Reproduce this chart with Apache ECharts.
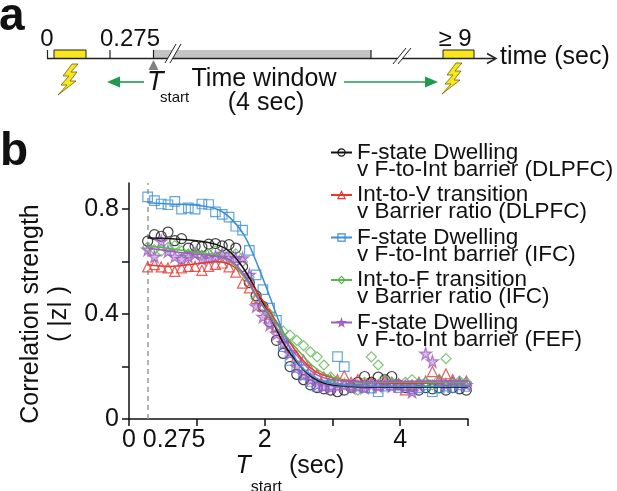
<!DOCTYPE html>
<html>
<head>
<meta charset="utf-8">
<script src="https://cdn.jsdelivr.net/npm/echarts@6/dist/echarts.min.js"></script>
<style>
html,body{margin:0;padding:0;background:#fff;}
#main{width:617px;height:491px;}
</style>
</head>
<body>
<div id="main"></div>
<script>
// ---------- DATA ----------
const xPoints = [0.275,0.375,0.475,0.575,0.675,0.775,0.875,0.975,1.075,1.175,1.275,1.375,1.475,1.575,1.675,1.775,1.875,1.975,2.075,2.175,2.275,2.375,2.475,2.575,2.675,2.775,2.875,2.975,3.075,3.175,3.275,3.375,3.475,3.575,3.675,3.775,3.875,3.975,4.075,4.175,4.275,4.375,4.475,4.575,4.675,4.775,4.875,4.975];

const dlpfcDwell = [0.678,0.703,0.697,0.713,0.68,0.688,0.652,0.659,0.656,0.667,0.669,0.66,0.665,0.652,0.582,0.52,0.47,0.43,0.37,0.30,0.25,0.20,0.17,0.15,0.13,0.12,0.115,0.11,0.104,0.11,0.12,0.14,0.162,0.14,0.16,0.15,0.162,0.13,0.12,0.125,0.11,0.12,0.115,0.12,0.11,0.12,0.115,0.11];
const dlpfcIntV = [0.58,0.589,0.58,0.576,0.563,0.576,0.582,0.582,0.567,0.582,0.59,0.595,0.58,0.56,0.518,0.50,0.46,0.43,0.40,0.353,0.31,0.28,0.24,0.225,0.19,0.17,0.16,0.15,0.15,0.165,0.14,0.15,0.135,0.14,0.13,0.145,0.14,0.135,0.111,0.13,0.14,0.145,0.181,0.15,0.172,0.15,0.14,0.145];
const ifcDwell = [0.847,0.833,0.82,0.817,0.83,0.80,0.805,0.80,0.82,0.818,0.79,0.78,0.77,0.735,0.72,0.643,0.55,0.493,0.423,0.376,0.276,0.223,0.197,0.168,0.143,0.124,0.126,0.13,0.238,0.20,0.13,0.125,0.12,0.118,0.104,0.125,0.13,0.12,0.125,0.115,0.12,0.13,0.104,0.118,0.125,0.12,0.13,0.124];
const ifcIntF = [0.656,0.646,0.64,0.655,0.661,0.64,0.63,0.635,0.625,0.63,0.64,0.62,0.625,0.63,0.60,0.54,0.46,0.43,0.40,0.35,0.335,0.32,0.30,0.28,0.256,0.237,0.206,0.16,0.14,0.13,0.12,0.11,0.14,0.237,0.206,0.15,0.14,0.13,0.14,0.15,0.135,0.14,0.13,0.15,0.23,0.14,0.145,0.14];
const fefDwell = [0.646,0.62,0.678,0.64,0.62,0.61,0.62,0.63,0.61,0.615,0.62,0.63,0.615,0.614,0.613,0.55,0.43,0.39,0.36,0.325,0.29,0.25,0.20,0.17,0.15,0.13,0.125,0.12,0.125,0.13,0.12,0.125,0.12,0.13,0.125,0.13,0.125,0.13,0.125,0.104,0.13,0.25,0.22,0.14,0.13,0.14,0.135,0.13];

const fitX = [0.275,0.6,1.0,1.3,1.5,1.7,1.9,2.1,2.3,2.5,2.7,2.9,3.2,3.6,4.0,4.5,5.0];
const fitDlpfcDwell = [0.69,0.688,0.68,0.665,0.635,0.57,0.48,0.38,0.28,0.21,0.16,0.135,0.125,0.122,0.122,0.122,0.122];
const fitDlpfcIntV = [0.588,0.582,0.592,0.60,0.588,0.545,0.48,0.40,0.32,0.245,0.19,0.165,0.148,0.14,0.136,0.138,0.143];
const fitIfcDwell = [0.825,0.82,0.815,0.80,0.765,0.70,0.585,0.45,0.315,0.212,0.165,0.14,0.128,0.125,0.125,0.125,0.125];
const fitIfcIntF = [0.66,0.65,0.635,0.625,0.60,0.54,0.46,0.39,0.32,0.26,0.205,0.17,0.145,0.14,0.14,0.14,0.14];
const fitFefDwell = [0.652,0.64,0.628,0.62,0.605,0.55,0.46,0.38,0.30,0.235,0.18,0.155,0.145,0.143,0.143,0.145,0.145];

const seriesNames = [
  'F-state Dwelling\nv F-to-Int barrier (DLPFC)',
  'Int-to-V transition\nv Barrier ratio (DLPFC)',
  'F-state Dwelling\nv F-to-Int barrier (IFC)',
  'Int-to-F transition\nv Barrier ratio (IFC)',
  'F-state Dwelling\nv F-to-Int barrier (FEF)'
];
const pointSets = [dlpfcDwell, dlpfcIntV, ifcDwell, ifcIntF, fefDwell];
const fitSets = [fitDlpfcDwell, fitDlpfcIntV, fitIfcDwell, fitIfcIntF, fitFefDwell];

const xLabelValues = [0, 0.275, 2, 4];
const xTickValues = [0, 1, 2, 3, 4, 5];
const yLabelValues = [0, 0.4, 0.8];
const yTickValues = [0, 0.2, 0.4, 0.6, 0.8];

// ---------- STYLE ----------
const FONT = '"Liberation Sans", Arial, Helvetica, sans-serif';
const colors = ['#111111', '#e8362d', '#3d8fd4', '#5bb553', '#a05cc4'];
const starPath = 'path://M50,0 L61,35 L98,35 L68,57 L79,91 L50,70 L21,91 L32,57 L2,35 L39,35 Z';
const symbols = ['circle', 'triangle', 'rect', 'diamond', starPath];
const fills = ['rgba(0,0,0,0)', 'rgba(0,0,0,0)', 'rgba(0,0,0,0)', 'rgba(0,0,0,0)', 'rgba(160,92,196,0.55)'];
const sizes = [10, 10, 9.5, 10, 12];

const zip = (a, b) => a.map((v, i) => [v, b[i]]);

const series = [];
seriesNames.forEach((name, i) => {
  series.push({
    name: name, type: 'line', data: zip(fitX, fitSets[i]), smooth: 0.35,
    showSymbol: false, symbol: symbols[i], symbolSize: sizes[i],
    lineStyle: { color: colors[i], width: 1.5 },
    itemStyle: { color: fills[i], borderColor: colors[i], borderWidth: 1.2 },
    z: 4, silent: true
  });
});
seriesNames.forEach((name, i) => {
  const s = {
    name: name, type: 'scatter', data: zip(xPoints, pointSets[i]),
    symbol: symbols[i], symbolSize: sizes[i],
    itemStyle: { color: fills[i], borderColor: colors[i], borderWidth: 1.2 },
    z: 3, silent: true
  };
  if (i === 0) {
    s.markLine = {
      silent: true, symbol: ['none', 'none'], label: { show: false },
      lineStyle: { color: '#9a9a9a', type: [5, 4], width: 1.5 },
      data: [{ xAxis: 0.275 }], z: 1
    };
  }
  series.push(s);
});

// ---------- PANEL a (schematic) ----------
function bolt(ox, oy) {
  const p = [[14,0],[5,12],[11,12],[3,21],[9,21],[0,31],[18,17],[12,17],[19,8],[13,8],[20,0]];
  return p.map(q => [ox + q[0], oy + q[1]]);
}
const ink = '#222';
const green = '#1f9a4c';
const yellow = '#f8e71c';
const graphics = [
  { type: 'text', left: -1, top: -6, style: { text: 'a', font: 'bold 46px ' + FONT, fill: '#111' } },
  { type: 'text', left: 0, top: 129, style: { text: 'b', font: 'bold 46px ' + FONT, fill: '#111' } },
  // timeline
  { type: 'rect', shape: { x: 154, y: 50, width: 217, height: 8.5 }, style: { fill: '#c4c4c4' } },
  { type: 'line', shape: { x1: 371, y1: 50, x2: 371, y2: 58.5 }, style: { stroke: ink, lineWidth: 1.2 } },
  { type: 'rect', shape: { x: 54, y: 50, width: 32, height: 8.5 }, style: { fill: yellow, stroke: ink, lineWidth: 1 } },
  { type: 'rect', shape: { x: 443, y: 50, width: 31, height: 8.5 }, style: { fill: yellow, stroke: ink, lineWidth: 1 } },
  { type: 'line', shape: { x1: 47, y1: 58.5, x2: 495, y2: 58.5 }, style: { stroke: ink, lineWidth: 1.5 } },
  { type: 'polyline', shape: { points: [[487, 53.5], [496, 58.5], [487, 63.5]] }, style: { stroke: ink, lineWidth: 1.5, fill: null } },
  { type: 'line', shape: { x1: 47.5, y1: 50, x2: 47.5, y2: 58.5 }, style: { stroke: ink, lineWidth: 1.2 } },
  { type: 'line', shape: { x1: 110, y1: 50, x2: 110, y2: 58.5 }, style: { stroke: ink, lineWidth: 1.2 } },
  { type: 'line', shape: { x1: 153.5, y1: 50, x2: 153.5, y2: 58.5 }, style: { stroke: ink, lineWidth: 1.2 } },
  // breaks
  { type: 'polygon', shape: { points: [[165, 63], [176, 44], [181, 44], [170, 63]] }, style: { fill: '#fff' } },
  { type: 'line', shape: { x1: 165, y1: 63, x2: 176, y2: 44 }, style: { stroke: ink, lineWidth: 1 } },
  { type: 'line', shape: { x1: 170, y1: 63, x2: 181, y2: 44 }, style: { stroke: ink, lineWidth: 1 } },
  { type: 'polygon', shape: { points: [[393, 64], [406, 48], [411, 48], [398, 64]] }, style: { fill: '#fff' } },
  { type: 'line', shape: { x1: 393, y1: 64, x2: 406, y2: 48 }, style: { stroke: ink, lineWidth: 1 } },
  { type: 'line', shape: { x1: 398, y1: 64, x2: 411, y2: 48 }, style: { stroke: ink, lineWidth: 1 } },
  // T_start marker
  { type: 'polygon', shape: { points: [[153.5, 60], [148.5, 70], [158.5, 70]] }, style: { fill: '#808080' } },
  // lightning
  { type: 'polygon', shape: { points: bolt(58, 64) }, style: { fill: yellow, stroke: '#6b6400', lineWidth: 0.8 } },
  { type: 'polygon', shape: { points: bolt(442, 63) }, style: { fill: yellow, stroke: '#6b6400', lineWidth: 0.8 } },
  // green arrows
  { type: 'line', shape: { x1: 144, y1: 82, x2: 118, y2: 82 }, style: { stroke: green, lineWidth: 1.6 } },
  { type: 'polygon', shape: { points: [[107, 82], [120, 76.5], [120, 87.5]] }, style: { fill: green } },
  { type: 'line', shape: { x1: 344, y1: 82, x2: 426, y2: 82 }, style: { stroke: green, lineWidth: 1.6 } },
  { type: 'polygon', shape: { points: [[438, 82], [425, 76.5], [425, 87.5]] }, style: { fill: green } },
  // texts
  { type: 'text', style: { text: '0', x: 47, y: 39, font: '24px ' + FONT, fill: '#111', align: 'center', verticalAlign: 'middle' } },
  { type: 'text', style: { text: '0.275', x: 130, y: 39, font: '24px ' + FONT, fill: '#111', align: 'center', verticalAlign: 'middle' } },
  { type: 'text', style: { text: '\u2265 9', x: 455, y: 39, font: '24px ' + FONT, fill: '#111', align: 'center', verticalAlign: 'middle' } },
  { type: 'text', style: { text: 'time (sec)', x: 500, y: 57, font: '25px ' + FONT, fill: '#111', align: 'left', verticalAlign: 'middle' } },
  { type: 'text', style: { text: 'T', x: 147, y: 82, font: 'italic 27px ' + FONT, fill: '#111', align: 'left', verticalAlign: 'middle' } },
  { type: 'text', style: { text: 'start', x: 160, y: 98, font: '15px ' + FONT, fill: '#111', align: 'left', verticalAlign: 'middle' } },
  { type: 'text', style: { text: 'Time window', x: 264, y: 79, font: '25px ' + FONT, fill: '#111', align: 'center', verticalAlign: 'middle' } },
  { type: 'text', style: { text: '(4 sec)', x: 266, y: 103, font: '25px ' + FONT, fill: '#111', align: 'center', verticalAlign: 'middle' } }
];

// ---------- CHART ----------
const chart = echarts.init(document.getElementById('main'), null, { renderer: 'canvas' });
chart.setOption({
  animation: false,
  backgroundColor: '#ffffff',
  textStyle: { fontFamily: FONT },
  grid: { left: 129, right: 149, top: 183, bottom: 72, containLabel: false, outerBoundsMode: 'none' },
  legend: {
    data: seriesNames, orient: 'vertical', left: 330, top: 124, padding: 0,
    itemWidth: 21, itemHeight: 9, itemGap: -14.5,
    itemStyle: { borderWidth: 1.2 },
    formatter: name => '{a| }\n' + name.split('\n').map(l => '{a|' + l + '}').join('\n'),
    textStyle: {
      fontSize: 22.5, color: '#111', fontFamily: FONT,
      rich: { a: { fontSize: 22.5, lineHeight: 17, color: '#111', fontFamily: FONT } }
    },
    selectedMode: false
  },
  xAxis: {
    type: 'value', min: 0, max: 5,
    name: '{t|T}{s|start}{n| (sec)}', nameLocation: 'middle', nameGap: 29,
    nameTextStyle: {
      padding: [0, 17, 0, 0],
      rich: {
        t: { fontSize: 25, fontStyle: 'italic', fontFamily: FONT, color: '#111', lineHeight: 25, padding: [0, 0, 17, 0], verticalAlign: 'bottom' },
        s: { fontSize: 16, fontFamily: FONT, color: '#111', lineHeight: 16, verticalAlign: 'bottom' },
        n: { fontSize: 25, fontFamily: FONT, color: '#111', lineHeight: 25, padding: [0, 0, 17, 0], verticalAlign: 'bottom' }
      }
    },
    axisLine: { onZero: false, lineStyle: { color: '#111', width: 1.5 } },
    axisTick: { length: 7, lineStyle: { color: '#111', width: 1.5 }, customValues: xTickValues },
    axisLabel: {
      customValues: xLabelValues, hideOverlap: false, margin: 9, fontSize: 25, color: '#111', fontFamily: FONT,
      formatter: v => (v === 0.275 ? '{s|0.275}' : String(v)),
      rich: { s: { fontSize: 25, color: '#111', fontFamily: FONT, padding: [0, 0, 0, 53] } }
    },
    splitLine: { show: false }
  },
  yAxis: {
    type: 'value', min: 0, max: 0.9,
    name: 'Correlation strength\n( |z| )', nameLocation: 'middle', nameGap: 55, nameRotate: 90,
    nameTextStyle: { fontSize: 25, lineHeight: 28, color: '#111', fontFamily: FONT, padding: [0, 26, 0, 0] },
    axisLine: { onZero: false, lineStyle: { color: '#111', width: 1.5 } },
    axisTick: { length: 7, lineStyle: { color: '#111', width: 1.5 }, customValues: yTickValues },
    axisLabel: { customValues: yLabelValues, margin: 10, fontSize: 25, color: '#111', fontFamily: FONT, hideOverlap: false },
    splitLine: { show: false }
  },
  graphic: graphics,
  series: series
});
</script>
</body>
</html>
